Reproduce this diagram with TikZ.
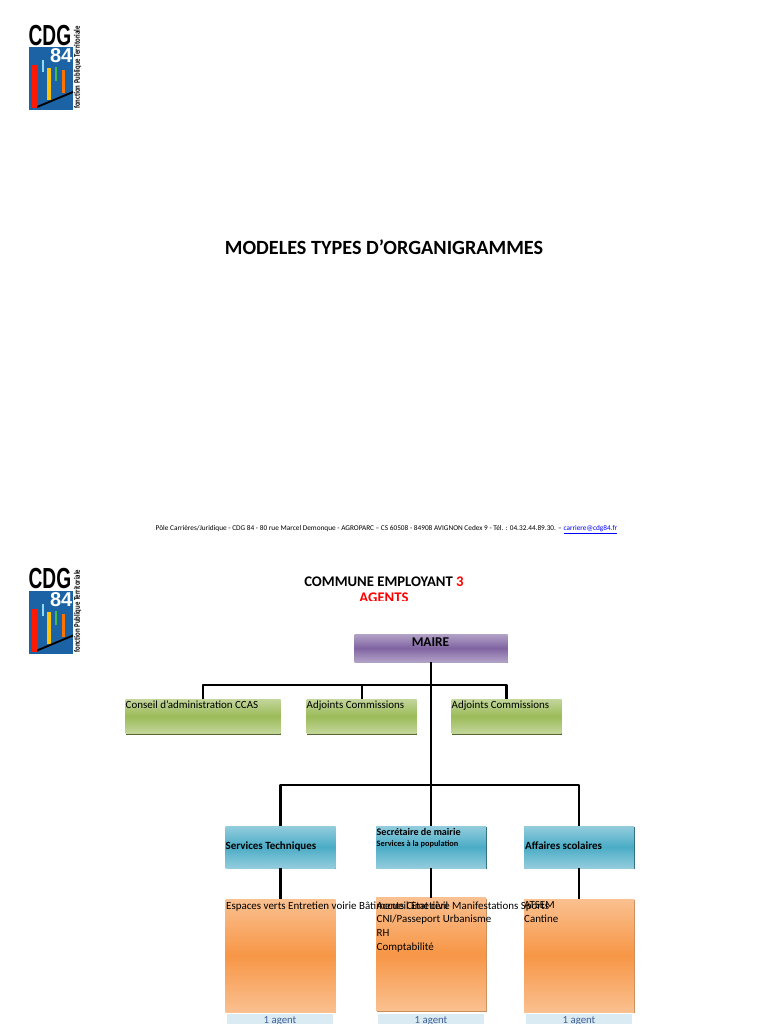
\documentclass[tikz,border=0pt]{standalone}
\usepackage{fontspec}
\usepackage{tikz}
\usetikzlibrary{positioning, shadows}
\setmainfont{Carlito}
\newfontfamily\logofont{Liberation Sans}
\definecolor{logoblue}{HTML}{1B63A5}
\definecolor{purpleA}{HTML}{B3A2C7}
\definecolor{purpleB}{HTML}{8064A2}
\definecolor{greenA}{HTML}{C3D69B}
\definecolor{greenB}{HTML}{9BBB59}
\definecolor{blueA}{HTML}{93CDDD}
\definecolor{blueB}{HTML}{4BACC6}
\definecolor{orangeA}{HTML}{FAC090}
\definecolor{orangeB}{HTML}{F79646}
\definecolor{agentfill}{HTML}{DAEBF3}
\definecolor{agenttext}{HTML}{3F5F95}
\tikzset{
  pics/logocdg/.style={code={
    \fill[logoblue] (29,47) rectangle (73,110);
    \node[anchor=west, inner sep=0, font=\logofont\bfseries\fontsize{29}{29}\selectfont, xscale=.66] at (28.5,35.5) {CDG};
    \node[anchor=east, inner sep=0, text=white, font=\logofont\bfseries\fontsize{20}{20}\selectfont] at (72.5,56) {84};
    \fill[red!80!orange] (32,65) rectangle (37.5,108);
    \fill[cyan!45] (42,60) rectangle (44,72);
    \fill[yellow!55!orange] (47,68) rectangle (51,100);
    \fill[green!45!gray] (55,67) rectangle (57,81);
    \fill[orange!90!red] (62,70) rectangle (65,93);
    \fill[black] (37,106) -- (73,91) -- (73,93) -- (37,108) -- cycle;
    \node[rotate=90, inner sep=0, font=\bfseries\fontsize{8.5}{8.5}\selectfont, xscale=.8] at (77.5,67.5) {fonction Publique Territoriale};
  }}
}
\begin{document}
\begin{tikzpicture}[
    x=1pt, y=-1pt,
    node distance=26pt,
    box/.style={inner sep=0pt, outer sep=0pt, general shadow={shadow xshift=.8pt, shadow yshift=-1pt, fill=#1}},
    maireBox/.style={box=purpleB!70!black, top color=purpleA, bottom color=purpleA, middle color=purpleB, minimum width=153pt, minimum height=28pt},
    eluBox/.style={box=greenB!55!black, top color=greenA, bottom color=greenA, middle color=greenB, minimum height=34.5pt},
    serviceBox/.style={box=blueB!60!black, top color=blueA, bottom color=blueA, middle color=blueB, minimum width=110pt, minimum height=42pt},
    tacheBox/.style={box=orangeB!60!gray, top color=orangeA, bottom color=orangeA, middle color=orangeB, minimum width=110pt, minimum height=113pt},
    agentBox/.style={inner sep=0pt, fill=agentfill, minimum width=106pt, minimum height=20pt},
    agentText/.style={inner sep=0pt, text=agenttext, font=\fontsize{10.8}{10.8}\selectfont},
    boxText/.style={anchor=north west, inner sep=0pt, align=left, font=\fontsize{10.95}{13.6}\selectfont},
    boldText/.style={anchor=west, inner sep=0pt, font=\bfseries\fontsize{11}{12}\selectfont},
    link/.style={line width=2.8pt, line join=round}
]
\clip (0,0) rectangle (768,1024);
\pic at (0,0) {logocdg};
\pic at (0,543.5) {logocdg};

\node[inner sep=0pt, font=\bfseries\fontsize{20.2}{20.2}\selectfont] (titre) at (384,247.5) {MODELES TYPES D’ORGANIGRAMMES};
\node[inner sep=0pt, anchor=base, font=\fontsize{7.3}{7.3}\selectfont] (adresse) at (386.5,530.5) {Pôle Carrières/Juridique - CDG 84 - 80 rue Marcel Demonque - AGROPARC – CS 60508 - 84908 AVIGNON Cedex 9 - Tél. : 04.32.44.89.30. – \textcolor{blue}{\underline{carriere@cdg84.fr}}};

\begin{scope}
\clip (200,570) rectangle (600,600.5);
\node[inner sep=0pt, align=center, font=\bfseries\fontsize{14.7}{16.5}\selectfont] (commune) at (384,589.5) {COMMUNE EMPLOYANT \textcolor{red}{3}\\\textcolor{red}{AGENTS}};
\end{scope}

% elus
\node[maireBox] (maire) at (431,648) {};
\node[inner sep=0pt, font=\bfseries\fontsize{13.4}{13.4}\selectfont] (mairetxt) at (430.5,642) {MAIRE};
\node[eluBox, minimum width=155pt] (conseil) at (203,716.25) {};
\node[eluBox, minimum width=110pt, right=of conseil] (adjointA) {};
\node[eluBox, minimum width=110pt, right=35pt of adjointA] (adjointB) {};
\node[boxText] (conseiltxt) at ([yshift=-2pt]conseil.north west) {Conseil d’administration CCAS};
\node[boxText] (adjointAtxt) at ([yshift=-2pt]adjointA.north west) {Adjoints Commissions};
\node[boxText] (adjointBtxt) at ([yshift=-2pt]adjointB.north west) {Adjoints Commissions};

% services
\node[serviceBox] (tech) at (280.5,847) {};
\node[serviceBox, right=40.5pt of tech] (secretaire) {};
\node[serviceBox, right=38pt of secretaire] (scolaire) {};
\node[boldText] (techtxt) at ([yshift=1pt]tech.west) {Services Techniques};
\node[boldText, anchor=north west, align=left, font=\bfseries\fontsize{10.1}{10.1}\selectfont] (secretairetxt) at ([xshift=.5pt,yshift=-2pt]secretaire.north west) {Secrétaire de mairie\\[1pt]{\fontsize{8.3}{8.5}\selectfont Services à la population}};
\node[boldText] (scolairetxt) at ([xshift=1pt,yshift=1pt]scolaire.west) {Affaires scolaires};

% taches
\node[tacheBox] (espaces) at (280.5,955.5) {};
\node[tacheBox, right=40.5pt of espaces, yshift=1.5pt] (accueil) {};
\node[tacheBox, right=38pt of accueil, yshift=-1.5pt] (atsem) {};
\node[boxText] (espacestxt) at ([xshift=.5pt,yshift=-2.5pt]espaces.north west) {Espaces verts Entretien voirie Bâtiments Cimetière Manifestations Sports};
\node[boxText] (accueiltxt) at ([xshift=.5pt,yshift=-4pt]accueil.north west) {Accueil Etat civil\\CNI/Passeport Urbanisme\\RH\\Comptabilité};
\node[boxText] (atsemtxt) at ([yshift=-2.5pt]atsem.north west) {ATSEM\\Cantine};

\node[agentBox] (agentA) at (280,1024) {};
\node[agentBox] (agentB) at (431,1024) {};
\node[agentBox] (agentC) at (579,1024) {};
\node[agentText] (agentAtxt) at (280,1020.5) {1 agent};
\node[agentText] (agentBtxt) at (431,1020.5) {1 agent};
\node[agentText] (agentCtxt) at (579,1020.5) {1 agent};

% liaisons
\coordinate (busElus) at (431,685);
\coordinate (busServices) at (431,785);
\draw[link] (conseil.north) |- (busElus) -| (adjointB.north);
\draw[link, line width=2pt] (adjointA.north) -- (adjointA.north |- busElus);
\draw[link] (maire.south) -- (secretaire.north);
\draw[link] (tech.north) |- (busServices) -| (scolaire.north);
\draw[link, line width=2.2pt] (tech.south) -- (espaces.north);
\draw[link] (secretaire.south) -- (accueil.north);
\draw[link] (scolaire.south) -- (atsem.north);
\end{tikzpicture}
\end{document}
